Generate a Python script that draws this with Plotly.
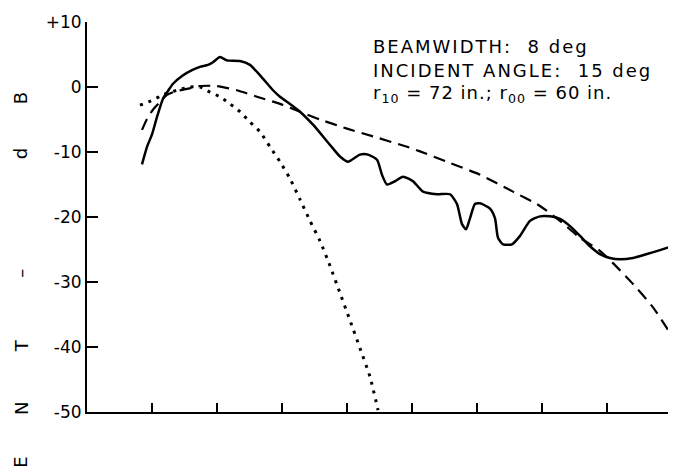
import plotly.graph_objects as go

# angle axis has no labels, only ticks: 1 unit per tick
measured_x = [0.846, 0.923, 1.0, 1.077, 1.169, 1.246, 1.323, 1.462, 1.615, 1.738,
              1.862, 1.938, 2.046, 2.154, 2.354, 2.508, 2.662, 2.862, 2.969, 3.123,
              3.277, 3.477, 3.738, 3.892, 4.015, 4.2, 4.323, 4.462, 4.538, 4.615,
              4.738, 4.862, 5.015, 5.169, 5.385, 5.585, 5.692, 5.769, 5.831, 5.892,
              5.969, 6.046, 6.2, 6.277, 6.323, 6.4, 6.538, 6.662, 6.815, 6.969,
              7.123, 7.277, 7.431, 7.585, 7.738, 7.892, 8.046, 8.2, 8.4, 8.615,
              8.815, 9.0]
measured_db = [-11.9, -9.2, -7.3, -4.6, -1.8, -0.6, 0.5, 1.7, 2.6, 3.1,
               3.4, 3.8, 4.6, 4.1, 4.0, 3.4, 1.8, -0.5, -1.5, -2.6,
               -3.8, -5.8, -8.9, -10.7, -11.5, -10.4, -10.4, -11.2, -13.5, -15.0,
               -14.5, -13.8, -14.5, -16.1, -16.5, -16.5, -18.0, -21.1, -21.9, -20.2,
               -18.0, -17.9, -18.7, -20.2, -23.2, -24.2, -24.2, -22.9, -20.6, -19.9,
               -19.9, -20.3, -21.4, -22.9, -24.5, -25.7, -26.3, -26.5, -26.3, -25.7,
               -25.1, -24.5]

beam_x = [0.846, 0.923, 1.015, 1.123, 1.231, 1.385, 1.538, 1.738, 2.0, 2.308,
          2.615, 2.969, 3.277, 3.585, 4.0, 4.4, 4.923, 5.123, 5.538, 6.046,
          6.554, 6.969, 7.277, 7.585, 7.892, 8.092, 8.4, 8.708, 9.0]
beam_db = [-6.6, -4.9, -3.5, -2.3, -1.2, -0.6, -0.3, 0.15, 0.15, -0.5,
           -1.5, -2.6, -3.8, -5.0, -6.4, -7.6, -9.2, -9.9, -11.5, -13.5,
           -16.1, -18.3, -20.6, -23.2, -25.2, -27.1, -30.3, -33.9, -38.3]

point_x = [0.815, 1.015, 1.169, 1.385, 1.585, 1.738, 1.892, 2.046, 2.2, 2.354,
           2.508, 2.662, 2.815, 2.969, 3.123, 3.277, 3.431, 3.585, 3.738, 3.892,
           4.046, 4.2, 4.354, 4.477]
point_db = [-2.8, -2.0, -1.2, -0.5, 0.0, 0.0, -0.8, -1.5, -2.6, -3.8,
            -5.4, -6.9, -9.2, -11.5, -14.1, -17.3, -20.6, -23.7, -27.5, -31.7,
            -35.9, -40.2, -44.6, -49.7]

y_ticks = [10, 0, -10, -20, -30, -40, -50]
y_tick_labels = ["+10", "0", "-10", "-20", "-30", "-40", "-50"]
x_ticks = [1, 2, 3, 4, 5, 6, 7, 8, 9]

info_lines = ["BEAMWIDTH:  8 deg",
              "INCIDENT ANGLE:  15 deg",
              "r<sub>10</sub> = 72 in.; r<sub>00</sub> = 60 in."]
info_spacing = ["2px", "2px", "1px"]

# rotated axis title, letters spread out as in the scan (paper y)
title_letters = ["B", "d", "–", "T", "N", "E"]
title_letter_y = [0.804, 0.663, 0.357, 0.171, 0.010, -0.128]

FONT = "DejaVu Sans"


def plot_pattern():

    fig = go.Figure()

    fig.add_trace(go.Scatter(
        x=measured_x, y=measured_db, mode='lines',
        line=dict(color='black', width=2.5, shape='spline', smoothing=0.6),
        showlegend=False
    ))

    fig.add_trace(go.Scatter(
        x=beam_x, y=beam_db, mode='lines',
        line=dict(color='black', width=2.2, dash='12px,7px', shape='spline', smoothing=0.6),
        showlegend=False
    ))

    fig.add_trace(go.Scatter(
        x=point_x, y=point_db, mode='lines',
        line=dict(color='black', width=3, dash='3px,6px', shape='spline', smoothing=0.6),
        showlegend=False
    ))

    for i, (txt, sp) in enumerate(zip(info_lines, info_spacing)):
        fig.add_annotation(
            x=4.37, y=6.27 - 3.67 * i, xref='x', yref='y',
            text=f'<span style="letter-spacing:{sp}">{txt}</span>',
            showarrow=False, xanchor='left', yanchor='middle',
            font=dict(family=FONT, size=18, color='black')
        )

    for letter, ly in zip(title_letters, title_letter_y):
        fig.add_annotation(
            x=-0.113, y=ly, xref='paper', yref='paper',
            text=letter, showarrow=False, textangle=-90,
            xanchor='center', yanchor='middle',
            font=dict(family=FONT, size=18, color='black')
        )

    # page body has an 8px margin, so the figure is 8px smaller than the window
    fig.update_layout(
        width=668, height=467,
        margin=dict(l=79, r=4, t=12, b=63),
        plot_bgcolor='white', paper_bgcolor='white',
        font=dict(family=FONT, size=17, color='black'),
        xaxis=dict(
            range=[0, 9], tickvals=x_ticks, showticklabels=False,
            ticks='inside', ticklen=9, tickwidth=2, tickcolor='black',
            showline=True, linecolor='black', linewidth=2,
            showgrid=False, zeroline=False
        ),
        yaxis=dict(
            range=[-50, 10], tickvals=y_ticks, ticktext=y_tick_labels,
            ticks='inside', ticklen=11, tickwidth=2, tickcolor='black',
            showline=True, linecolor='black', linewidth=2,
            showgrid=False, zeroline=False
        ),
    )

    return fig


fig = plot_pattern()
fig.write_html("out.html")
